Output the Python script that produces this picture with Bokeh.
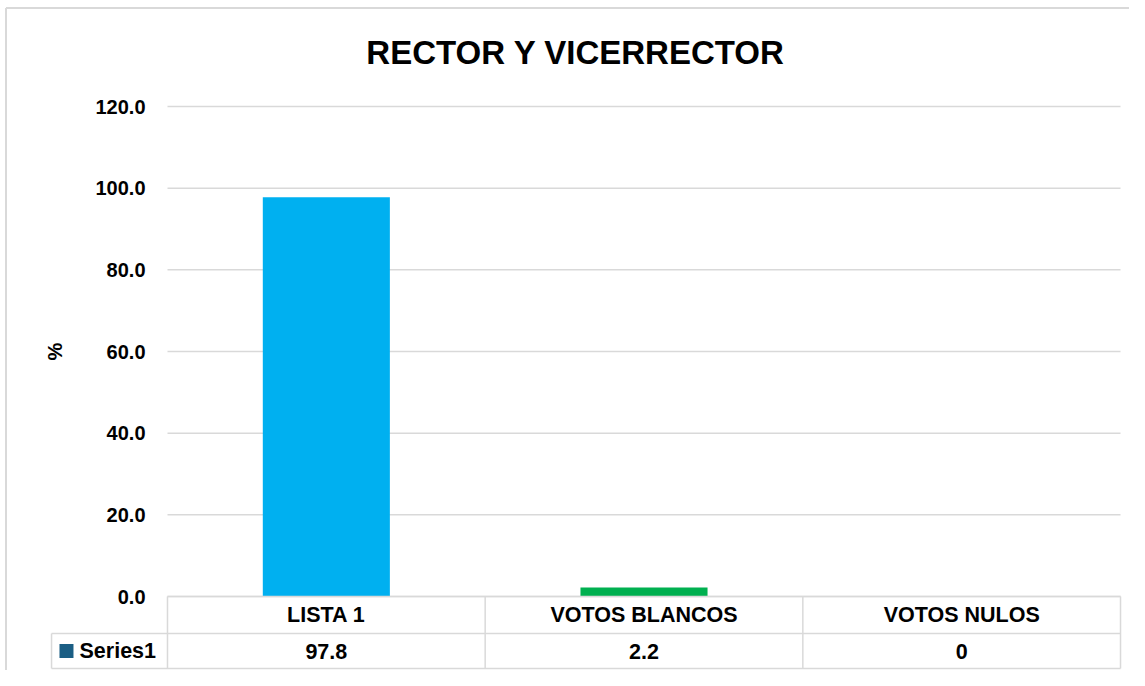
import math
from bokeh.plotting import figure
from bokeh.models import Range1d, ColumnDataSource
from bokeh.core.properties import value
from bokeh.embed import file_html
from bokeh.resources import INLINE

# ---- data ----
title_text = "RECTOR Y VICERRECTOR"
categories = ["LISTA 1", "VOTOS BLANCOS", "VOTOS NULOS"]
values = [97.8, 2.2, 0.0]
bar_colors = ["#00B0F0", "#00B050", "#FFC000"]
series_name = "Series1"
series_color = "#1B5E84"
y_ticks = [0, 20, 40, 60, 80, 100, 120]
y_label = "%"

FONT = value("Liberation Sans")
GRID = "#D9D9D9"

n = len(categories)
xs = [i + 0.5 for i in range(n)]

X0, X1 = -0.5257, n + 0.0283
Y0, Y1 = -18.12, 145.96

p = figure(width=1129, height=670, output_backend="svg", toolbar_location=None,
           x_range=Range1d(X0, X1), y_range=Range1d(Y0, Y1),
           x_axis_location=None, y_axis_location=None, min_border=0,
           background_fill_color="white", border_fill_color="white")
p.grid.visible = False
p.outline_line_color = None

# chart border (left and top visible)
bx = -0.5084
by = 144.1
p.segment(x0=[bx, bx], x1=[bx, X1], y0=[Y0, by], y1=[by, by], line_color=GRID, line_width=2)

# gridlines
p.segment(x0=[0] * len(y_ticks), x1=[n] * len(y_ticks), y0=y_ticks, y1=y_ticks,
          line_color=GRID, line_width=1.5)

# bars
src = ColumnDataSource(dict(x=xs, top=values, color=bar_colors[:n]))
p.vbar(x="x", top="top", width=0.4, bottom=0, fill_color="color", line_color=None, source=src)

# data table geometry (in data units)
row_mid = -9.06
row_bot = -17.63
left_cell = -0.365
hx0 = [0, left_cell, left_cell]
hx1 = [n, n, n]
hy = [0, row_mid, row_bot]
p.segment(x0=hx0, x1=hx1, y0=hy, y1=hy, line_color=GRID, line_width=1.5)
vx = list(range(n + 1)) + [left_cell]
vy0 = [row_bot] * (n + 1) + [row_bot]
vy1 = [0] * (n + 1) + [row_mid]
p.segment(x0=vx, x1=vx, y0=vy0, y1=vy1, line_color=GRID, line_width=1.5)

# y tick labels
p.text(x=[0] * len(y_ticks), y=y_ticks, text=[f"{t:.1f}" for t in y_ticks],
       x_offset=-22, text_align="right", text_baseline="middle",
       text_font=FONT, text_font_style="bold", text_font_size="20px", text_color="black")

# y axis label
p.text(x=[-0.3526], y=[(y_ticks[0] + y_ticks[-1]) / 2], text=[y_label], angle=math.pi / 2,
       text_align="center", text_baseline="middle",
       text_font=FONT, text_font_style="bold", text_font_size="20px", text_color="black")

# title
p.text(x=[1.285], y=[133.2], text=[title_text],
       text_align="center", text_baseline="middle",
       text_font=FONT, text_font_style="bold", text_font_size="33px", text_color="black")

# table header (categories)
p.text(x=xs, y=[(0 + row_mid) / 2] * n, text=categories,
       text_align="center", text_baseline="middle",
       text_font=FONT, text_font_style="bold", text_font_size="21.5px", text_color="black")

# table values
p.text(x=xs, y=[(row_mid + row_bot) / 2] * n, text=[f"{v:g}" for v in values],
       text_align="center", text_baseline="middle",
       text_font=FONT, text_font_style="bold", text_font_size="21.5px", text_color="black")

# series legend key + name
p.scatter(x=[-0.318], y=[(row_mid + row_bot) / 2], marker="square", size=14,
          fill_color=series_color, line_color=None)
p.text(x=[-0.277], y=[(row_mid + row_bot) / 2], text=[series_name],
       text_align="left", text_baseline="middle",
       text_font=FONT, text_font_style="bold", text_font_size="21.5px", text_color="black")

open("out.html", "w").write(file_html(p, INLINE))
